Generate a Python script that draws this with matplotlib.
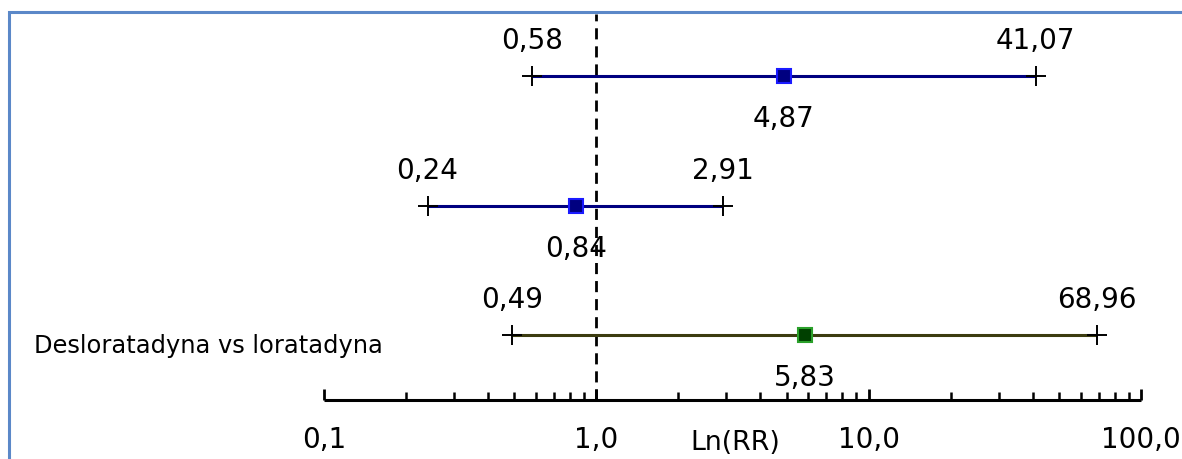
import matplotlib
matplotlib.use("Agg")
import matplotlib.pyplot as plt
from matplotlib.patches import Rectangle
from matplotlib.ticker import FixedLocator, NullFormatter, LogLocator

# ---- data ----
labels = ["", "", "Desloratadyna vs loratadyna"]
rr = [4.87, 0.84, 5.83]
lower = [0.58, 0.24, 0.49]
upper = [41.07, 2.91, 68.96]
rr_text = ["4,87", "0,84", "5,83"]
lower_text = ["0,58", "0,24", "0,49"]
upper_text = ["41,07", "2,91", "68,96"]
tick_values = [0.1, 1.0, 10.0, 100.0]
tick_labels = ["0,1", "1,0", "10,0", "100,0"]
axis_title = "Ln(RR)"

line_colors = ["#000080", "#000080", "#3c3c10"]
marker_face = ["#000080", "#000080", "#004000"]
marker_edge = ["#1a1aff", "#1a1aff", "#2aa02a"]

W, H = 1182, 459
dpi = 100
plt.rcParams['font.family'] = ['DejaVu Sans']
fig = plt.figure(figsize=(W / dpi, H / dpi), dpi=dpi)

# frame (blue border at left/top)
fig.patches.append(Rectangle((9 / W, -0.05), 1.2, (H - 12) / H + 0.05,
                             transform=fig.transFigure, fill=False,
                             edgecolor="#5b88c8", linewidth=2.2))

# axes: x from 0.1 (px 324) to 100 (px 1141); y pixel-like
x0, x1 = 324, 1141
ybot, ytop = 400, 14
ax = fig.add_axes([x0 / W, 1 - ybot / H, (x1 - x0) / W, (ybot - ytop) / H])
ax.set_xscale("log")
ax.set_xlim(0.1, 100)
ax.set_ylim(ybot, ytop)
ax.patch.set_visible(False)
for s in ["top", "left", "right"]:
    ax.spines[s].set_visible(False)
ax.spines["bottom"].set_linewidth(2.2)
ax.spines["bottom"].set_capstyle("butt")
ax.yaxis.set_visible(False)
ax.xaxis.set_major_locator(FixedLocator(tick_values))
ax.set_xticklabels(tick_labels)
ax.xaxis.set_minor_locator(LogLocator(base=10, subs=range(2, 10)))
ax.xaxis.set_minor_formatter(NullFormatter())
fs = 20
ax.tick_params(axis="x", which="major", direction="in", length=8, width=2.0,
               pad=19, labelsize=fs)
ax.tick_params(axis="x", which="minor", direction="in", length=5.5, width=1.8)

# reference line at 1
ax.plot([1, 1], [ybot, ytop], color="black", lw=2, ls=(0, (4, 2.5)), clip_on=False)

rows_y = [76, 206, 335]
for i, y in enumerate(rows_y):
    ax.plot([lower[i], upper[i]], [y, y], color=line_colors[i], lw=2.2, solid_capstyle="butt",
            zorder=3)
    ax.plot([lower[i], upper[i]], [y, y], ls="none", marker="+", color="black",
            markersize=14, markeredgewidth=1.4, zorder=4, clip_on=False)
    ax.plot([rr[i]], [y], ls="none", marker="s", markersize=10.5,
            markerfacecolor=marker_face[i], markeredgecolor=marker_edge[i],
            markeredgewidth=1.5, zorder=5)
    ax.text(lower[i], y - 27, lower_text[i], ha="center", va="baseline", fontsize=fs)
    ax.text(upper[i], y - 27, upper_text[i], ha="center", va="baseline", fontsize=fs)
    ax.text(rr[i], y + 51, rr_text[i], ha="center", va="baseline", fontsize=fs)
    if labels[i]:
        fig.text(34 / W, 1 - (y + 18) / H, labels[i], ha="left", va="baseline", fontsize=17.4)

fig.text(735 / W, 1 - 450 / H, axis_title, ha="center", va="baseline", fontsize=19.3)

fig.savefig("out.png", dpi=dpi)
